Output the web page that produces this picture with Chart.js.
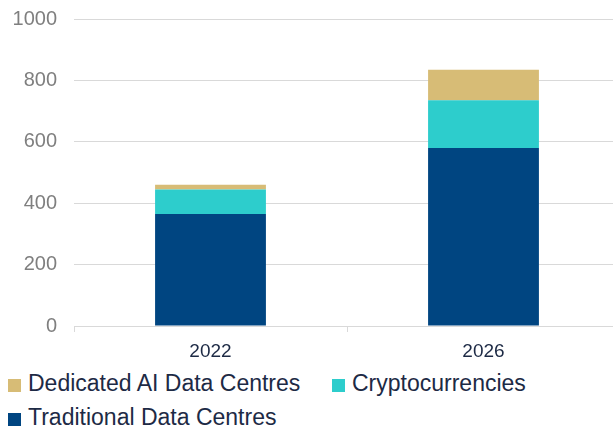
<!DOCTYPE html>
<html>
<head>
<meta charset="utf-8">
<script src="https://cdn.jsdelivr.net/npm/chart.js@4/dist/chart.umd.min.js"></script>
<style>
  html, body { margin: 0; padding: 0; background: #fff; overflow: hidden; width: 613px; height: 427px; }
  #wrap { position: absolute; left: 0; top: 0; width: 625px; height: 365px; }
  #legend { position: absolute; left: 8px; top: 366px; width: 600px;
            font-family: "Liberation Sans", Arial, sans-serif; font-size: 23px; color: #1d2a45; }
  .item { position: absolute; white-space: nowrap; line-height: 34px; height: 34px; }
  .swatch { display: inline-block; width: 13px; height: 13px; margin-right: 7px; vertical-align: -1px; }
</style>
</head>
<body>
<div id="wrap"><canvas id="energyChart"></canvas></div>
<div id="legend"></div>
<script>
// Electricity demand by segment, stacked per year
const years = ['2022', '2026'];
const traditional = [365, 580];
const crypto = [80, 155];
const dedicatedAI = [15, 100];
const yTicks = [0, 200, 400, 600, 800, 1000];

const FONT = '"Liberation Sans", Arial, sans-serif';

const ctx = document.getElementById('energyChart').getContext('2d');

const chart = new Chart(ctx, {
    type: 'bar',
    data: {
        labels: years,
        datasets: [
            { label: 'Traditional Data Centres', data: traditional, backgroundColor: '#004581' },
            { label: 'Cryptocurrencies', data: crypto, backgroundColor: '#2dcdcc' },
            { label: 'Dedicated AI Data Centres', data: dedicatedAI, backgroundColor: '#d7bc76' }
        ]
    },
    options: {
        responsive: true,
        maintainAspectRatio: false,
        animation: false,
        layout: { padding: { top: 19, right: 5, left: 0, bottom: 0 } },
        datasets: {
            bar: { categoryPercentage: 1, barPercentage: 0.406 }
        },
        plugins: {
            tooltip: { enabled: false },
            legend: { display: false }
        },
        scales: {
            x: {
                stacked: true,
                grid: { drawOnChartArea: false, tickLength: 6, color: '#d9d9d9' },
                border: { color: '#d9d9d9' },
                ticks: { color: '#1d2a45', font: { family: FONT, size: 19 }, padding: 8 },
                afterFit: scale => { scale.height = 39; }
            },
            y: {
                stacked: true,
                min: 0,
                max: 1000,
                afterBuildTicks: scale => { scale.ticks = yTicks.map(v => ({ value: v })); },
                grid: { color: '#d9d9d9', drawTicks: false },
                border: { display: false },
                ticks: { color: '#7f7f7f', font: { family: FONT, size: 20 }, padding: 17,
                         callback: v => String(v) },
                afterFit: scale => {
                    scale.width = 74;
                    scale.paddingTop = 0;
                    scale.paddingBottom = 0;
                }
            }
        }
    }
});

// legend below the plot, top segment listed first
const legendSlots = [[0, 0], [324, 0], [0, 34]];
const legendEl = document.getElementById('legend');
chart.data.datasets.slice().reverse().forEach((ds, i) => {
    const item = document.createElement('div');
    item.className = 'item';
    item.style.left = legendSlots[i][0] + 'px';
    item.style.top = legendSlots[i][1] + 'px';
    const sw = document.createElement('span');
    sw.className = 'swatch';
    sw.style.background = ds.backgroundColor;
    item.appendChild(sw);
    item.appendChild(document.createTextNode(ds.label));
    legendEl.appendChild(item);
});
</script>
</body>
</html>
